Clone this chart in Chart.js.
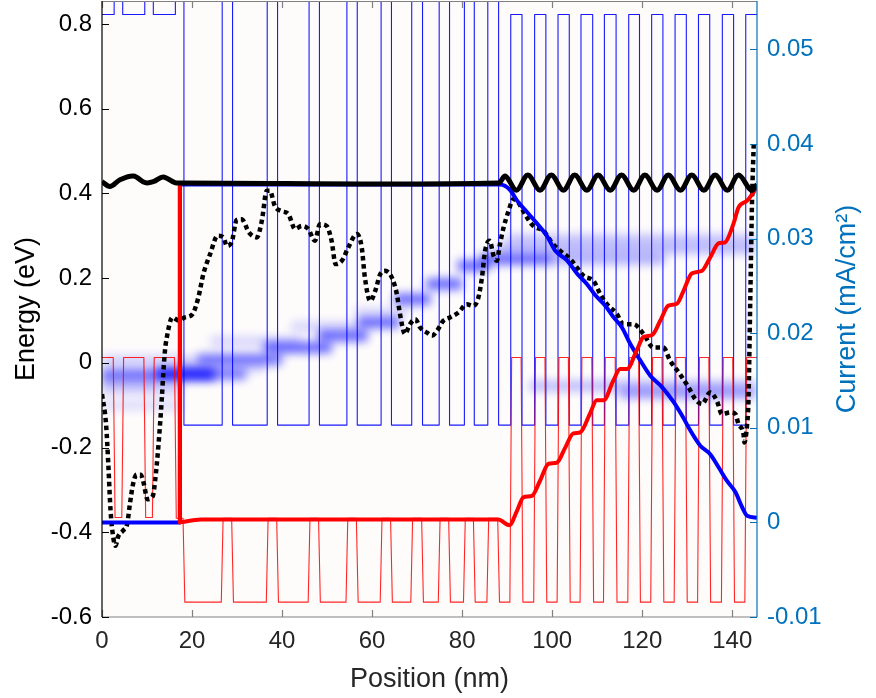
<!DOCTYPE html>
<html><head><meta charset="utf-8">
<script src="https://cdn.jsdelivr.net/npm/chart.js@4/dist/chart.umd.min.js"></script>
<style>html,body{margin:0;padding:0;background:#fff;}canvas{display:block}</style>
</head><body>
<canvas id="c" width="876" height="698"></canvas>
<script>
// ---------- DATA ----------
const xTicks = [0, 20, 40, 60, 80, 100, 120, 140];
const energyTicks = [-0.6, -0.4, -0.2, 0, 0.2, 0.4, 0.6, 0.8];
const currentTicks = [-0.01, 0, 0.01, 0.02, 0.03, 0.04, 0.05];

// layer boundaries (nm) and band-edge levels (eV) per layer
const layerEdges = [0, 2.7, 4.6, 9.5, 11.4, 16.3, 18.2, 26.7, 29.0, 36.7, 39.0, 46.0, 48.3, 54.4, 56.7, 62.0, 64.3, 68.8, 71.2, 74.9, 77.2, 80.5, 82.7, 85.7, 88.1,
  90.8, 93.3, 96.1, 98.6, 101.3, 103.8, 106.4, 109.0, 111.6, 114.2, 117.0, 119.4, 122.1, 124.6, 127.3, 129.8, 132.5, 135.0, 137.8, 140.3, 143.0, 145.5];
const cbLevels = [0.822, 1.0, 0.822, 1.0, 0.822, 1.0,
  -0.147, 1.0, -0.147, 1.0, -0.147, 1.0, -0.147, 1.0, -0.147, 1.0, -0.147, 1.0, -0.147, 1.0, -0.147, 1.0, -0.147, 1.0, -0.147,
  0.822, -0.147, 0.822, -0.147, 0.822, -0.147, 0.822, -0.147, 0.822, -0.147, 0.822, -0.147, 0.822, -0.147, 0.822, -0.147, 0.822, -0.147, 0.822, -0.147, 0.822];
const vbLevels = [0.0125, -0.365, 0.0125, -0.365, 0.0125, -0.367,
  -0.565, -0.367, -0.565, -0.367, -0.565, -0.367, -0.565, -0.367, -0.565, -0.367, -0.565, -0.367, -0.565, -0.367, -0.565, -0.367, -0.565, -0.367, -0.565,
  0.0125, -0.565, 0.0125, -0.565, 0.0125, -0.565, 0.0125, -0.565, 0.0125, -0.565, 0.0125, -0.565, 0.0125, -0.565, 0.0125, -0.565, 0.0125, -0.565, 0.0125, -0.565, 0.0125];

// dotted potential profile (eV)
const potentialX = [0, 0.9, 1.4, 1.9, 2.5, 3.0, 3.6, 4.7, 5.6, 6.2, 6.9, 7.7, 8.6, 9.3, 10.1, 11.3, 11.8, 12.5, 13.3, 13.6, 14.0, 14.4, 15.6, 17.0, 18.4, 20.1, 21.4, 22.5, 24.0, 25.7, 27.0, 27.7, 28.8, 29.9, 31.0, 32.7, 34.4, 35.5, 36.6, 37.3, 38.4, 39.9, 41.4, 42.9, 44.4, 45.8, 47.3, 48.4, 49.9, 51.0, 51.9, 53.3, 54.7, 56.6, 57.7, 58.4, 59.6, 60.7, 61.8, 62.9, 64.4, 65.5, 66.2, 67.3, 68.4, 69.6, 70.7, 72.2, 73.3, 74.4, 75.8, 77.3, 79.2, 81.0, 82.5, 83.6, 84.4, 85.1, 86.1, 87.0, 87.7, 88.4, 89.2, 90.3, 91.4, 92.2, 94.4, 95.8, 98.1, 99.9, 101.8, 104.0, 105.5, 107.0, 109.2, 110.7, 112.2, 114.4, 115.8, 118.1, 120.3, 122.5, 124.7, 126.2, 128.4, 130.3, 131.8, 133.3, 135.1, 136.6, 137.7, 139.6, 140.7, 141.4, 142.5, 142.7, 143.3, 143.6, 144.0, 144.4, 144.8];
const potentialE = [-0.074, -0.145, -0.239, -0.349, -0.412, -0.432, -0.41, -0.396, -0.38, -0.333, -0.286, -0.264, -0.264, -0.286, -0.322, -0.314, -0.278, -0.2, -0.082, -0.027, 0.03, 0.06, 0.107, 0.10, 0.107, 0.115, 0.154, 0.209, 0.256, 0.30, 0.296, 0.276, 0.284, 0.337, 0.339, 0.307, 0.296, 0.335, 0.406, 0.406, 0.37, 0.358, 0.351, 0.316, 0.323, 0.316, 0.288, 0.327, 0.323, 0.288, 0.233, 0.241, 0.272, 0.304, 0.272, 0.201, 0.146, 0.17, 0.209, 0.217, 0.201, 0.162, 0.115, 0.068, 0.091, 0.103, 0.083, 0.071, 0.064, 0.075, 0.099, 0.107, 0.119, 0.138, 0.134, 0.154, 0.201, 0.264, 0.288, 0.252, 0.241, 0.28, 0.319, 0.358, 0.386, 0.382, 0.343, 0.323, 0.311, 0.284, 0.264, 0.245, 0.225, 0.205, 0.193, 0.162, 0.138, 0.115, 0.091, 0.091, 0.068, 0.036, 0.036, 0.005, -0.027, -0.058, -0.086, -0.097, -0.07, -0.09, -0.121, -0.117, -0.121, -0.145, -0.168, -0.188, -0.145, -0.09, 0.147, 0.383, 0.525];

// currents (mA/cm^2)
const totalX = [0, 1.8, 4.0, 7.0, 9.6, 11.4, 13.6, 16.2, 17.8, 88.0, 89.6, 92.1, 94.6, 97.3, 99.8, 102.5, 105.0, 107.7, 110.2, 112.9, 115.4, 118.1, 120.6, 123.3, 125.8, 128.5, 131.0, 133.7, 136.2, 138.9, 141.4, 144.2, 145.5];
const totalJ = [0.0360, 0.0355, 0.0362, 0.0366, 0.0359, 0.0360, 0.0365, 0.0359, 0.03587, 0.03587, 0.0366, 0.0351, 0.0367, 0.0351, 0.0367, 0.0351, 0.0367, 0.0351, 0.0367, 0.0351, 0.0367, 0.0351, 0.0367, 0.0351, 0.0367, 0.0351, 0.0367, 0.0351, 0.0367, 0.0351, 0.0367, 0.0351, 0.0357];
const electronX = [0, 17.3, 17.3, 88.4, 90.7, 92.2, 94.4, 96.6, 98.8, 100.7, 103.3, 105.5, 107.7, 109.6, 111.8, 113.6, 115.5, 117.3, 119.6, 121.8, 124.4, 127.0, 129.2, 130.7, 132.9, 135.1, 137.0, 138.8, 140.7, 142.2, 143.3, 145.5];
const electronJ = [0, 0, 0.0357, 0.0357, 0.0351, 0.034, 0.0328, 0.0316, 0.0303, 0.0287, 0.0277, 0.0263, 0.0252, 0.024, 0.0229, 0.0217, 0.0206, 0.0189, 0.0171, 0.0155, 0.0143, 0.0127, 0.011, 0.0097, 0.0081, 0.0072, 0.0058, 0.0044, 0.0032, 0.0016, 0.0007, 0.0005];
const holeX = [17.3, 17.3, 22, 88, 90.5, 92.2, 93.6, 95.5, 97.3, 99.2, 101.0, 102.9, 104.7, 106.2, 108.4, 109.9, 111.4, 113.6, 115.1, 116.6, 118.8, 120.3, 122.2, 124.0, 125.8, 127.7, 129.2, 131.0, 133.3, 135.1, 137.0, 138.4, 140.3, 141.4, 143.3, 145.5];
const holeJ = [0.0358, 0, 0.0003, 0.0003, -0.0003, 0.00124, 0.00265, 0.0028, 0.0044, 0.0062, 0.0063, 0.0079, 0.0094, 0.0095, 0.0115, 0.0129, 0.0129, 0.015, 0.0162, 0.0162, 0.0182, 0.0196, 0.0198, 0.0213, 0.0229, 0.0231, 0.0245, 0.0263, 0.0266, 0.028, 0.0295, 0.0296, 0.0316, 0.0333, 0.034, 0.0354];

// local density of states streaks: start, end (nm), energy (eV), intensity
const ldosX0 = [0, 12, 0, 0, 0, 18, 21, 36, 48, 57, 65, 72, 79, 84, 100, 88, 90, 95, 115, 24, 42, 56, 0];
const ldosX1 = [32, 25, 18, 18, 20, 36, 40, 51, 59, 66, 73, 80, 86, 100, 125, 145, 145, 145, 145, 44, 58, 68, 12];
const ldosE = [-0.027, -0.027, -0.06, -0.1, 0.005, -0.01, 0.008, 0.036, 0.064, 0.095, 0.15, 0.186, 0.229, 0.245, 0.245, 0.27, 0.292, -0.055, -0.072, 0.05, 0.085, 0.12, -0.04];
const ldosI = [0.5, 0.8, 0.2, 0.12, 0.18, 0.15, 0.55, 0.6, 0.6, 0.6, 0.6, 0.6, 0.6, 0.6, 0.3, 0.25, 0.2, 0.25, 0.35, 0.15, 0.15, 0.12, 0.25];

// ---------- BUILD ----------
const xy = (xs, ys) => xs.map((x, i) => ({x, y: ys[i]}));
function bandLine(levels, inset) {
  const pts = [];
  for (let i = 0; i < levels.length; i++) {
    const a = layerEdges[i], b = layerEdges[i + 1];
    pts.push({x: a + (i > 0 ? inset : 0), y: levels[i]});
    pts.push({x: b - (i < levels.length - 1 ? inset : 0), y: levels[i]});
  }
  return pts;
}
const eAll = xy(electronX, electronJ), hAll = xy(holeX, holeJ);
const AX = '#0072BD';
const datasets = [];
datasets.push({data: xy(totalX, totalJ), yAxisID: 'y1', borderColor: '#000', borderWidth: 5, tension: 0.35, order: 1});
datasets.push({data: eAll.slice(0, 3), yAxisID: 'y1', borderColor: '#0000ff', borderWidth: 4, tension: 0, order: 3});
datasets.push({data: eAll.slice(2), yAxisID: 'y1', borderColor: '#0000ff', borderWidth: 4, cubicInterpolationMode: 'monotone', order: 3});
datasets.push({data: hAll.slice(0, 2), yAxisID: 'y1', borderColor: '#ff0000', borderWidth: 4, tension: 0, order: 2});
datasets.push({data: hAll.slice(1), yAxisID: 'y1', borderColor: '#ff0000', borderWidth: 4, cubicInterpolationMode: 'monotone', order: 2});
datasets.push({data: xy(potentialX, potentialE), yAxisID: 'y', borderColor: '#000', borderWidth: 4.5, borderDash: [4.5, 3.5], cubicInterpolationMode: 'monotone', order: 4});
datasets.push({data: bandLine(cbLevels, 0), yAxisID: 'y', borderColor: 'rgba(0,0,255,0.9)', borderWidth: 1.1, tension: 0, order: 8});
datasets.push({data: bandLine(vbLevels, 0.2), yAxisID: 'y', borderColor: 'rgba(255,0,0,0.85)', borderWidth: 1.1, tension: 0, order: 7});
ldosE.forEach((e, i) => {
  datasets.push({data: [{x: ldosX0[i], y: e}, {x: ldosX1[i], y: e}], yAxisID: 'y', borderColor: `rgba(0,0,255,${ldosI[i]})`, borderWidth: 11, blur: 5, order: 20});
});

const blurPlugin = {
  id: 'blurPlugin',
  beforeDatasetsDraw(chart) {
    const {ctx, chartArea: a} = chart;
    ctx.save(); ctx.fillStyle = '#fefcfb'; ctx.fillRect(a.left, a.top, a.right - a.left, a.bottom - a.top); ctx.restore();
  },
  beforeDatasetDraw(chart, args) {
    const ds = chart.data.datasets[args.index];
    if (ds.blur) { chart.ctx.save(); chart.ctx.filter = `blur(${ds.blur}px)`; }
  },
  afterDatasetDraw(chart, args) {
    const ds = chart.data.datasets[args.index];
    if (ds.blur) chart.ctx.restore();
  }
};

const framePlugin = {
  id: 'frame',
  afterDraw(chart) {
    const {ctx, chartArea: a, scales} = chart;
    const sx = scales.x, sy = scales.y, sy1 = scales.y1;
    const TL = 7;
    ctx.save();
    ctx.lineWidth = 1.2;
    ctx.strokeStyle = '#808080';
    ctx.beginPath(); ctx.moveTo(a.left, a.top + 0.5); ctx.lineTo(a.right, a.top + 0.5);
    ctx.moveTo(a.left, a.bottom); ctx.lineTo(a.right, a.bottom);
    xTicks.forEach(v => { const p = Math.round(sx.getPixelForValue(v)) + 0.5; ctx.moveTo(p, a.bottom); ctx.lineTo(p, a.bottom - TL); ctx.moveTo(p, a.top); ctx.lineTo(p, a.top + TL); });
    ctx.stroke();
    ctx.strokeStyle = '#000';
    ctx.beginPath(); ctx.moveTo(a.left, a.top); ctx.lineTo(a.left, a.bottom);
    energyTicks.forEach(v => { const p = Math.round(sy.getPixelForValue(v)) + 0.5; ctx.moveTo(a.left, p); ctx.lineTo(a.left + TL, p); });
    ctx.stroke();
    ctx.strokeStyle = AX;
    ctx.beginPath(); ctx.moveTo(a.right, a.top); ctx.lineTo(a.right, a.bottom);
    currentTicks.forEach(v => { const p = Math.round(sy1.getPixelForValue(v)) + 0.5; ctx.moveTo(a.right, p); ctx.lineTo(a.right - TL, p); });
    ctx.stroke();
    const F = '"Liberation Sans", Arial, sans-serif';
    ctx.font = `24px ${F}`;
    ctx.textBaseline = 'middle';
    ctx.fillStyle = '#262626'; ctx.textAlign = 'center';
    xTicks.forEach(v => ctx.fillText(String(v), sx.getPixelForValue(v), a.bottom + 24));
    ctx.fillStyle = '#000'; ctx.textAlign = 'right';
    energyTicks.forEach(v => ctx.fillText(v === 0 ? '0' : v.toFixed(1), a.left - 10, sy.getPixelForValue(v)));
    ctx.fillStyle = AX; ctx.textAlign = 'left';
    currentTicks.forEach(v => ctx.fillText(v === 0 ? '0' : v.toFixed(2), a.right + 10, sy1.getPixelForValue(v)));
    ctx.font = `27px ${F}`;
    ctx.textAlign = 'center';
    ctx.fillStyle = '#262626';
    ctx.fillText('Position (nm)', (a.left + a.right) / 2, a.bottom + 63);
    const cy = (a.top + a.bottom) / 2;
    ctx.save(); ctx.translate(27, cy); ctx.rotate(-Math.PI / 2); ctx.fillStyle = '#000'; ctx.fillText('Energy (eV)', 0, 0); ctx.restore();
    ctx.save(); ctx.translate(848, cy); ctx.rotate(-Math.PI / 2); ctx.fillStyle = AX; ctx.fillText('Current (mA/cm²)', 0, 0); ctx.restore();
    ctx.restore();
  }
};

new Chart(document.getElementById('c'), {
  type: 'line',
  data: {datasets},
  options: {
    responsive: false, animation: false, devicePixelRatio: 1,
    layout: {padding: {top: 1, left: 0, right: 0, bottom: 0}},
    elements: {point: {radius: 0, hoverRadius: 0}, line: {borderCapStyle: 'butt', borderJoinStyle: 'round', fill: false}},
    plugins: {legend: {display: false}, tooltip: {enabled: false}},
    events: [],
    scales: {
      x: {type: 'linear', min: 0, max: 145.5, grid: {display: false}, border: {display: false}, ticks: {display: false}, afterFit: s => { s.height = 81; }},
      y: {type: 'linear', position: 'left', min: -0.6, max: 0.854, grid: {display: false}, border: {display: false}, ticks: {display: false}, afterFit: s => { s.width = 102; }},
      y1: {type: 'linear', position: 'right', min: -0.01, max: 0.0551, grid: {display: false}, border: {display: false}, ticks: {display: false}, afterFit: s => { s.width = 119; }}
    }
  },
  plugins: [blurPlugin, framePlugin]
});
</script>
</body></html>
